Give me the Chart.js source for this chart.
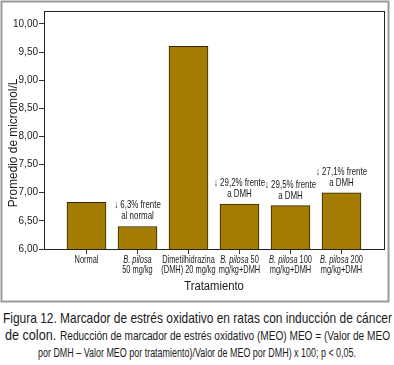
<!DOCTYPE html>
<html><head><meta charset="utf-8">
<script src="https://cdn.jsdelivr.net/npm/chart.js@4/dist/chart.umd.min.js"></script>
<style>
html,body{margin:0;padding:0;background:#fff;}
#wrap{position:relative;width:394px;height:365px;overflow:hidden;}
#c{position:absolute;left:0;top:0;}
.cl{position:absolute;white-space:nowrap;color:#1a1a1a;transform-origin:0 0;
 font-family:'Liberation Sans',Arial,sans-serif;line-height:17px;}
.big{font-size:15px;}
.small{font-size:12px;}
</style></head><body>
<div id="wrap">
<canvas id="c" width="394" height="305"></canvas>
<div class="cl" id="l1" style="top:309px"><span class="big">Figura 12. Marcador de estrés oxidativo en ratas con inducción de cáncer</span></div>
<div class="cl" id="l2" style="top:326px"><span class="big">de colon.</span> <span class="small">Reducción de marcador de estrés oxidativo (MEO) MEO = (Valor de MEO</span></div>
<div class="cl" id="l3" style="top:343px"><span class="small">por DMH – Valor MEO por tratamiento)/Valor de MEO por DMH) x 100; p &lt; 0,05.</span></div>
</div>
<script>
const categories = [
  ['Normal'],
  ['B. pilosa', '50 mg/kg'],
  ['Dimetilhidrazina', '(DMH) 20 mg/kg'],
  ['B. pilosa 50', 'mg/kg+DMH'],
  ['B. pilosa 100', 'mg/kg+DMH'],
  ['B. pilosa 200', 'mg/kg+DMH']
];
const values = [6.83, 6.40, 9.60, 6.80, 6.77, 7.00];
const annotations = [
  null,
  ['↓ 6,3% frente', 'al normal'],
  null,
  ['↓ 29,2% frente', 'a DMH'],
  ['↓ 29,5% frente', 'a DMH'],
  ['↓ 27,1% frente', 'a DMH']
];
const yTicks = [6.0, 6.5, 7.0, 7.5, 8.0, 8.5, 9.0, 9.5, 10.0];
const italicTerm = 'B. pilosa';
const yTitle = 'Promedio de micromol/L';
const xTitle = 'Tratamiento';

const FONT = "'Liberation Sans',Arial,sans-serif";
const TXT = '#1a1a1a';

[['l1', 197.5, 389], ['l2', 197.5, 385], ['l3', 196.5, 318]].forEach(([id, cx, w]) => {
  const el = document.getElementById(id);
  const nat = el.getBoundingClientRect().width;
  el.style.left = (cx - w / 2) + 'px';
  el.style.transform = 'scaleX(' + (w / nat) + ')';
});

function drawParts(ctx, parts, cx, y, size, sx) {
  let total = 0;
  parts.forEach(p => { ctx.font = (p.it ? 'italic ' : '') + size + 'px ' + FONT; p.w = ctx.measureText(p.t).width; total += p.w; });
  ctx.save();
  ctx.translate(cx, y);
  ctx.scale(sx, 1);
  ctx.textAlign = 'left';
  ctx.textBaseline = 'middle';
  let x = -total / 2;
  parts.forEach(p => { ctx.font = (p.it ? 'italic ' : '') + size + 'px ' + FONT; ctx.fillText(p.t, x, 0); x += p.w; });
  ctx.restore();
}
function splitItalic(line) {
  if (line.startsWith(italicTerm)) {
    const parts = [{t: italicTerm, it: true}];
    if (line.length > italicTerm.length) parts.push({t: line.slice(italicTerm.length), it: false});
    return parts;
  }
  return [{t: line, it: false}];
}

const decor = {
  id: 'decor',
  beforeDraw(chart) {
    const ctx = chart.ctx;
    ctx.save();
    ctx.fillStyle = '#fff';
    ctx.fillRect(0, 0, chart.width, chart.height);
    ctx.strokeStyle = '#9a9a9a';
    ctx.lineWidth = 2;
    ctx.strokeRect(1.5, 1.5, 387, 300);
    ctx.restore();
  },
  afterDraw(chart) {
    const ctx = chart.ctx, a = chart.chartArea;
    const xs = chart.scales.x, ys = chart.scales.y;
    ctx.save();
    ctx.strokeStyle = '#222';
    ctx.lineWidth = 1;
    ctx.strokeRect(Math.round(a.left) + 0.5, Math.round(a.top) + 0.5, Math.round(a.right - a.left), Math.round(a.bottom - a.top));
    ctx.fillStyle = TXT;
    categories.forEach((lines, i) => {
      const cx = xs.getPixelForValue(i);
      lines.forEach((line, li) => {
        drawParts(ctx, splitItalic(line), cx, a.bottom + 11.5 + li * 10, 10.3, 0.72);
      });
    });
    annotations.forEach((ann, i) => {
      if (!ann) return;
      const cx = xs.getPixelForValue(i);
      const top = ys.getPixelForValue(values[i]);
      drawParts(ctx, [{t: ann[0], it: false}], cx, top - 21, 10.3, 0.77);
      drawParts(ctx, [{t: ann[1], it: false}], cx, top - 10, 10.3, 0.77);
    });
    drawParts(ctx, [{t: xTitle, it: false}], (a.left + a.right) / 2, 287, 12.5, 0.9);
    ctx.save();
    ctx.translate(13.5, 143);
    ctx.rotate(-Math.PI / 2);
    drawParts(ctx, [{t: yTitle, it: false}], 0, 0, 12.5, 0.95);
    ctx.restore();
    ctx.restore();
  }
};

new Chart(document.getElementById('c'), {
  type: 'bar',
  data: {
    datasets: [{
      data: values.map((v, i) => ({x: i, y: v})),
      backgroundColor: '#a57c03',
      borderColor: '#2e2300',
      borderWidth: 1,
      borderSkipped: false,
      barThickness: 39
    }]
  },
  options: {
    responsive: false,
    animation: false,
    devicePixelRatio: 1,
    layout: {padding: {left: 0, right: 10, top: 11, bottom: 0}},
    plugins: {legend: {display: false}, tooltip: {enabled: false}},
    scales: {
      x: {
        type: 'linear',
        offset: false,
        min: -0.8333,
        max: 5.8333,
        afterBuildTicks: s => { s.ticks = categories.map((_, i) => ({value: i})); },
        afterFit: s => { s.height = 56; },
        ticks: {display: false},
        grid: {offset: false, drawOnChartArea: false, drawTicks: true, tickLength: 5, color: '#333'},
        border: {display: false}
      },
      y: {
        min: 6,
        max: 10.23,
        afterBuildTicks: s => { s.ticks = yTicks.map(v => ({value: v})); },
        afterFit: s => { s.width = 44; },
        ticks: {
          color: TXT,
          font: {family: FONT, size: 10},
          padding: 1,
          callback: v => v.toFixed(2).replace('.', ',')
        },
        grid: {drawOnChartArea: false, drawTicks: true, tickLength: 5, color: '#333'},
        border: {display: false}
      }
    }
  },
  plugins: [decor]
});
</script>
</body></html>
